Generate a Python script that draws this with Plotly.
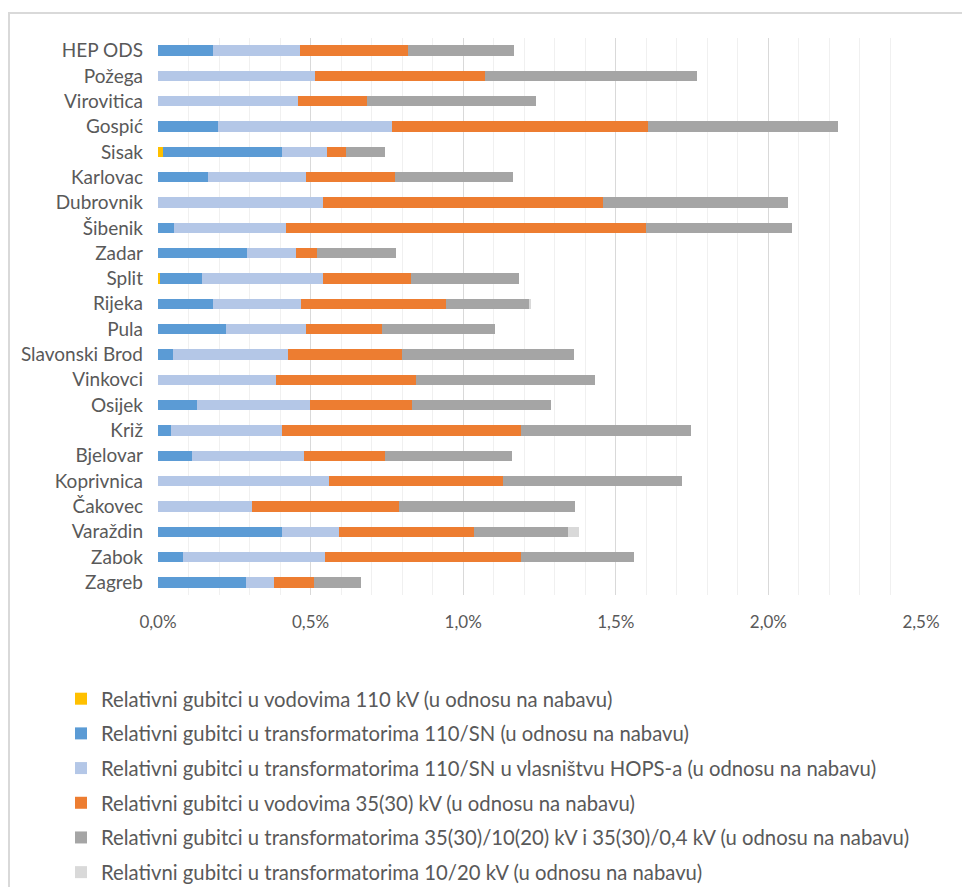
import plotly.graph_objects as go

# Distribution areas, listed top to bottom
areas = ["HEP ODS", "Požega", "Virovitica", "Gospić", "Sisak", "Karlovac", "Dubrovnik",
         "Šibenik", "Zadar", "Split", "Rijeka", "Pula", "Slavonski Brod", "Vinkovci",
         "Osijek", "Križ", "Bjelovar", "Koprivnica", "Čakovec", "Varaždin", "Zabok", "Zagreb"]

# Relative losses in % of procurement, by component
lines_110 = [0, 0, 0, 0, 0.016, 0, 0, 0, 0, 0.005, 0, 0, 0, 0, 0, 0, 0, 0, 0, 0, 0, 0]
trafo_110_sn = [0.181, 0, 0, 0.196, 0.390, 0.164, 0, 0.053, 0.292, 0.139, 0.181, 0.223,
                0.050, 0, 0.129, 0.043, 0.112, 0, 0, 0.406, 0.082, 0.288]
trafo_110_sn_hops = [0.283, 0.515, 0.460, 0.571, 0.148, 0.321, 0.540, 0.366, 0.161, 0.396,
                     0.287, 0.262, 0.376, 0.386, 0.369, 0.362, 0.365, 0.560, 0.309, 0.186,
                     0.465, 0.092]
lines_35 = [0.354, 0.558, 0.225, 0.838, 0.062, 0.292, 0.918, 1.179, 0.069, 0.290, 0.475,
            0.248, 0.373, 0.458, 0.335, 0.786, 0.267, 0.572, 0.479, 0.443, 0.641, 0.131]
trafo_35 = [0.347, 0.694, 0.554, 0.623, 0.128, 0.387, 0.606, 0.479, 0.259, 0.353, 0.273,
            0.372, 0.565, 0.588, 0.454, 0.555, 0.415, 0.586, 0.579, 0.307, 0.371, 0.154]
trafo_10_20 = [0, 0, 0, 0, 0, 0, 0, 0, 0, 0, 0.006, 0, 0, 0, 0, 0, 0, 0, 0, 0.038, 0, 0]

series = [
    ("Relativni gubitci u vodovima 110 kV (u odnosu na nabavu)", lines_110, "#FFC000"),
    ("Relativni gubitci u transformatorima 110/SN (u odnosu na nabavu)", trafo_110_sn, "#5B9BD5"),
    ("Relativni gubitci u transformatorima 110/SN u vlasništvu HOPS-a (u odnosu na nabavu)",
     trafo_110_sn_hops, "#B4C7E7"),
    ("Relativni gubitci u vodovima 35(30) kV (u odnosu na nabavu)", lines_35, "#ED7D31"),
    ("Relativni gubitci u transformatorima 35(30)/10(20) kV i 35(30)/0,4 kV (u odnosu na nabavu)",
     trafo_35, "#A5A5A5"),
    ("Relativni gubitci u transformatorima 10/20 kV (u odnosu na nabavu)", trafo_10_20, "#D9D9D9"),
]

FONT = "Lato, Open Sans, sans-serif"
TEXT = "#595959"

fig = go.Figure()
for i, (name, vals, color) in enumerate(series):
    fig.add_trace(go.Bar(
        y=areas, x=vals, name=name, orientation="h",
        marker=dict(color=color, line=dict(width=0)),
        legendgroup=f"g{i}",
    ))

W, H = 962, 887
ml, mr, mt, mb = 158, 41, 38, 292
pw, ph = W - ml - mr, H - mt - mb

def px_x(px):
    return (px - ml) / pw

def px_y(py):
    return (H - mb - py) / ph

fig.update_layout(
    width=W, height=H,
    margin=dict(l=ml, r=mr, t=mt, b=mb, pad=0, autoexpand=False),
    barmode="stack", bargap=0.59,
    paper_bgcolor="white", plot_bgcolor="white",
    separators=",.",
    font=dict(family=FONT, size=17, color=TEXT),
    xaxis=dict(
        range=[0, 2.5], dtick=0.5, tickformat=".1f", ticksuffix="%",
        showgrid=True, gridcolor="#D9D9D9", gridwidth=1,
        minor=dict(dtick=0.1, showgrid=True, gridcolor="#F0F0F0", gridwidth=1),
        zeroline=False, showline=False, ticks="",
        tickfont=dict(family=FONT, size=17, color=TEXT),
        ticklabelstandoff=15,
    ),
    yaxis=dict(
        autorange="reversed", showgrid=False, zeroline=False, showline=False, ticks="",
        tickfont=dict(family=FONT, size=19, color=TEXT),
        ticklabelstandoff=14,
    ),
    legend=dict(
        orientation="v", x=px_x(61), xanchor="left", y=px_y(679), yanchor="top",
        font=dict(family=FONT, size=20.3, color=TEXT),
        tracegroupgap=5.3, traceorder="grouped", bgcolor="rgba(0,0,0,0)",
    ),
    shapes=[dict(
        type="rect", xref="paper", yref="paper",
        x0=px_x(9), x1=px_x(963), y0=px_y(H + 5), y1=px_y(13),
        line=dict(color="#D9D9D9", width=2), fillcolor="rgba(0,0,0,0)", layer="below",
    )],
)

fig.write_html("out.html")
